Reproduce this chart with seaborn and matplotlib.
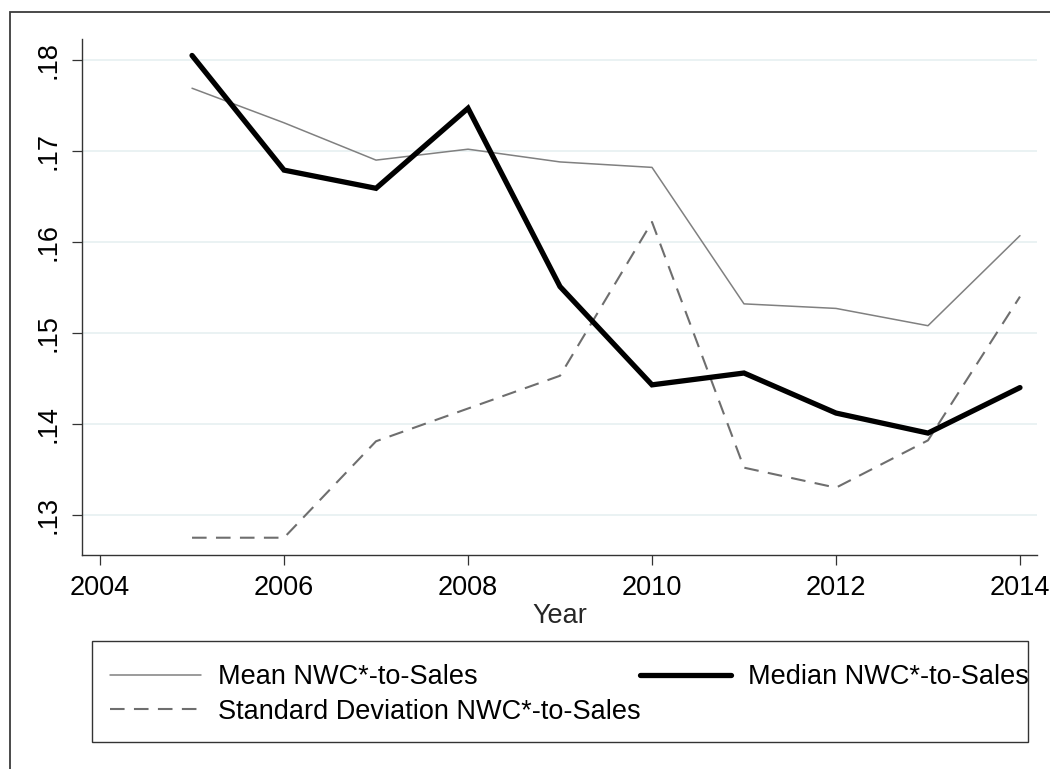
import matplotlib
matplotlib.use("Agg")
import matplotlib.pyplot as plt
from matplotlib.lines import Line2D
from matplotlib.patches import Rectangle
import numpy as np
import pandas as pd
import seaborn as sns

# Working-capital ratios by year
years = [2005, 2006, 2007, 2008, 2009, 2010, 2011, 2012, 2013, 2014]
mean_nwc = [0.1769, 0.1731, 0.1690, 0.1702, 0.1688, 0.1682, 0.1532, 0.1527, 0.1508, 0.1607]
median_nwc = [0.1805, 0.1679, 0.1659, 0.1747, 0.1551, 0.1443, 0.1456, 0.1412, 0.1390, 0.1440]
sd_nwc = [0.1275, 0.1275, 0.1381, 0.1417, 0.1453, 0.1622, 0.1352, 0.1330, 0.1382, 0.1540]

series_names = ["Mean NWC*-to-Sales", "Median NWC*-to-Sales",
                "Standard Deviation NWC*-to-Sales"]
x_ticks = [2004, 2006, 2008, 2010, 2012, 2014]
y_ticks = [0.13, 0.14, 0.15, 0.16, 0.17, 0.18]
y_ticklabels = [".13", ".14", ".15", ".16", ".17", ".18"]

sns.set_theme(style="white")
plt.rcParams["font.family"] = ["Liberation Sans", "DejaVu Sans"]

FS = 19.5
W, H = 1050, 769

df = pd.DataFrame({"Year": years, "mean": mean_nwc,
                   "median": median_nwc, "sd": sd_nwc})

fig = plt.figure(figsize=(W / 100, H / 100), dpi=100)
fig.patch.set_facecolor("white")
ax = fig.add_axes([82 / W, 1 - 555 / H, (1037 - 82) / W, (555 - 39) / H])

mean_kw = dict(color="#808080", linewidth=1.1)
median_kw = dict(color="black", linewidth=3.8, solid_capstyle="round",
                 solid_joinstyle="miter")
sd_dash = (0, (7, 4.5))
sd_kw = dict(color="#6e6e6e", linewidth=1.5)

sns.lineplot(data=df, x="Year", y="mean", ax=ax, **mean_kw)
sns.lineplot(data=df, x="Year", y="sd", ax=ax, linestyle=sd_dash, **sd_kw)
sns.lineplot(data=df, x="Year", y="median", ax=ax, **median_kw)

ax.set_xlim(2003.804, 2014.185)
ax.set_ylim(0.12560, 0.18231)
ax.set_xticks(x_ticks)
ax.set_yticks(y_ticks)
ax.set_yticklabels(y_ticklabels, rotation=90, va="center")
ax.grid(axis="y", color="#eaf2f3", linewidth=1.4)
ax.grid(axis="x", visible=False)
ax.set_axisbelow(True)

for side in ["top", "right"]:
    ax.spines[side].set_visible(False)
for side in ["left", "bottom"]:
    ax.spines[side].set_color("#333333")
    ax.spines[side].set_linewidth(1.0)

ax.tick_params(axis="both", which="major", direction="out", length=7.5,
               width=0.9, color="#333333", labelsize=FS, labelcolor="black",
               left=True, bottom=True)
ax.tick_params(axis="y", pad=7)
ax.tick_params(axis="x", pad=7)
ax.set_xlabel("Year", fontsize=FS, labelpad=1)
ax.set_ylabel("")

# Legend: entries without their own frame, boxed by a separate rectangle
handles = [
    Line2D([], [], **mean_kw),
    Line2D([], [], linestyle=sd_dash, **sd_kw),
    Line2D([], [], color="black", linewidth=3.8),
]
labels = [series_names[0], series_names[2], series_names[1]]
leg = fig.legend(handles, labels, ncol=2, loc="upper left",
                 bbox_to_anchor=(110 / W, 1 - 664 / H),
                 fontsize=FS, frameon=False,
                 handlelength=3.35, handletextpad=0.63, borderpad=0.0,
                 labelspacing=0.33, borderaxespad=0.0, columnspacing=0.0)
for t in leg.get_texts():
    t.set_color("black")

fig.patches.append(Rectangle((92 / W, 1 - 742 / H), (1028 - 92) / W, (742 - 641) / H,
                             transform=fig.transFigure, fill=False,
                             edgecolor="#333333", linewidth=1.0, zorder=0))

# Outer graph region border
fig.patches.append(Rectangle((10 / W, -0.05), 1.2, 0.05 + 1 - 12 / H,
                             transform=fig.transFigure, fill=False,
                             edgecolor="#3c3c3c", linewidth=1.3))

fig.savefig("out.png", dpi=100, facecolor="white")
